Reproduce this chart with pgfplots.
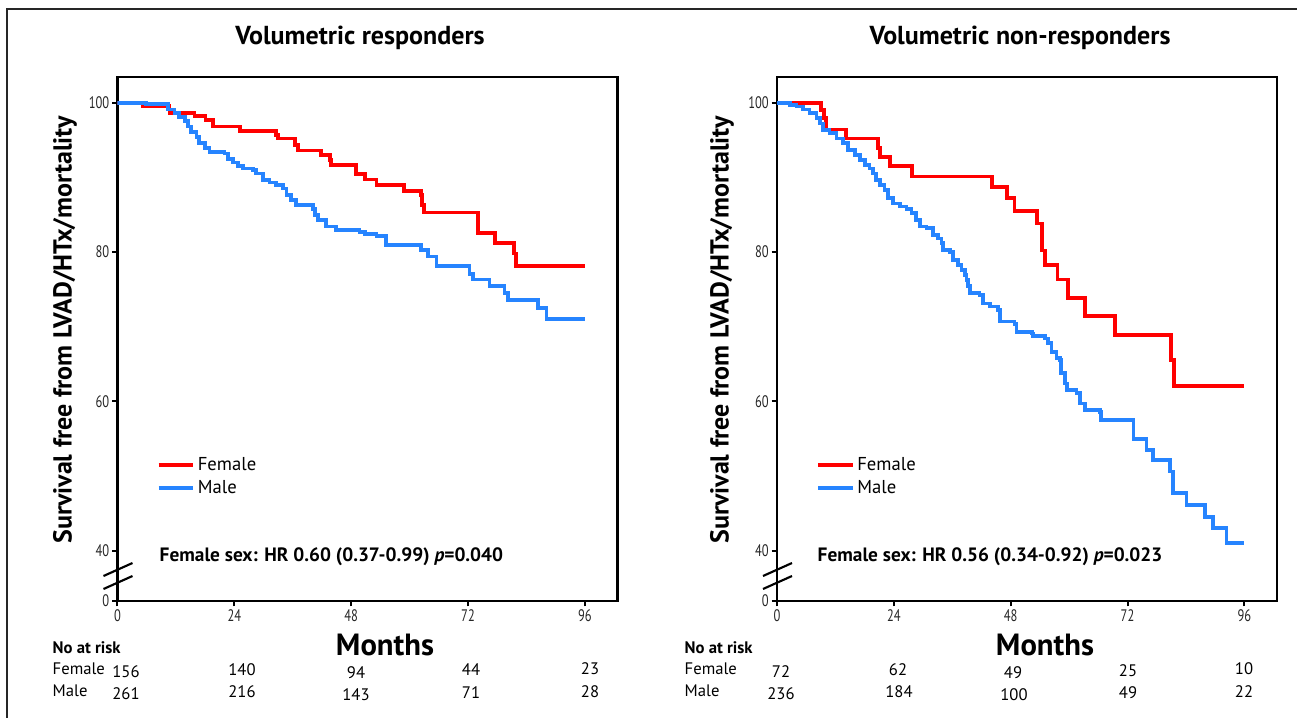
\documentclass[border=0pt]{standalone}
\usepackage{fontspec}
\setmainfont{PT Sans}
\usepackage{pgfplots}
\pgfplotsset{compat=1.18}
\definecolor{kmred}{RGB}{255,0,0}
\definecolor{kmblue}{RGB}{38,132,255}

\pgfplotsset{
  km/.style={
    scale only axis, width=375pt, height=393pt,
    anchor=south west,
    xmin=0, xmax=102.7, ymin=33.25, ymax=103.44,
    axis line style={line width=2.2pt},
    xtick={0,24,48,72,96}, xticklabels={0,24,48,72,96},
    ytick={33.25,40,60,80,100}, yticklabels={0,40,60,80,100},
    xtick pos=left, ytick pos=left, tick align=outside,
    major tick length=4pt,
    tick style={line width=1.5pt, black},
    tick label style={font=\fontsize{12.5}{14}\selectfont\addfontfeature{FakeStretch=0.75}, text=black!85, inner sep=2pt},
    legend style={draw=none, fill=none, font=\fontsize{14}{15}\selectfont,
      at={(0.07,0.2376)}, anchor=west, row sep=2pt},
    legend cell align=left,
    legend image code/.code={\draw[#1] (0pt,0pt) -- (26pt,0pt);},
  },
  fem/.style={const plot, kmred, line width=2.8pt},
  mal/.style={const plot, kmblue, line width=2.8pt},
}

\begin{document}
\begin{tikzpicture}
% 1 px of the reference = 0.75pt; y runs downward in the px scope
\begin{scope}[x=0.75pt,y=-0.75pt]
\path[use as bounding box] (0,0) rectangle (1297,718);
\draw[line width=1.6pt, black!85] (7,718) -- (7,9) -- (1297,9);
\end{scope}

% left panel: origin at px (117.5,601)
\begin{axis}[km, at={(88.125pt,-450.75pt)}]
\addplot[fem] coordinates {
 (0,100) (5.2,99.55) (10.7,98.6) (15.8,98.2) (18.1,97.7) (19.6,96.8) (25.1,96.25)
 (32.6,95.7) (32.9,95.2) (36.4,94.3) (37.1,93.6) (41.8,93.0) (43.6,92.3) (43.9,91.65)
 (49.0,90.4) (50.8,89.7) (53.2,89.0) (58.8,88.2) (62.4,87.6) (62.6,86.3) (62.9,85.3)
 (74.0,82.5) (77.5,81.2) (81.4,79.8) (81.9,78.1) (96,78.1)
};
\addlegendentry{Female}
\addplot[mal] coordinates {
 (0,100) (5.9,99.8) (10.3,99.1) (11.7,98.6) (12.7,98.1) (13.8,97.5) (14.5,96.8)
 (15.1,96.1) (16.2,95.4) (16.8,94.6) (17.9,93.9) (18.9,93.4) (22.0,93.2) (22.7,92.5)
 (23.7,92.0) (24.7,91.5) (25.8,91.2) (27.8,91.0) (28.5,90.5) (29.9,89.6) (31.2,89.3)
 (32.6,89.0) (34.0,88.5) (34.7,87.6) (35.7,87.0) (36.7,86.3) (40.1,85.8) (40.5,85.0)
 (41.2,84.3) (42.9,83.4) (44.9,82.9) (49.7,82.7) (50.8,82.4) (53.2,82.1) (55.2,80.9)
 (62.4,80.3) (63.8,79.4) (65.5,78.1) (72.3,77.1) (73.0,76.3) (76.4,75.4) (79.5,74.5)
 (80.2,73.6) (86.4,72.5) (88.1,71.0) (96,71.0)
};
\addlegendentry{Male}
\end{axis}

% right panel: origin at px (777,601)
\begin{axis}[km, at={(582.75pt,-450.75pt)}]
\addplot[fem] coordinates {
 (0,100) (9.1,99.0) (9.6,97.9) (10.0,96.4) (14.1,95.2) (20.8,93.9) (21.2,92.7)
 (23.2,91.5) (27.8,90.1) (44.2,88.7) (47.3,87.2) (48.8,85.5) (53.4,83.8) (54.5,80.2)
 (55.0,78.3) (57.6,76.3) (59.8,73.8) (63.2,71.4) (69.4,68.9) (81.0,65.5) (81.6,62.05)
 (96,62.05)
};
\addlegendentry{Female}
\addplot[mal] coordinates {
 (0,100) (2.6,99.7) (4.0,99.5) (5.3,99.1) (6.7,98.6) (8.1,97.9) (8.8,97.2) (9.5,96.3)
 (10.8,95.9) (12.2,95.2) (13.6,94.6) (14.6,93.7) (16.0,93.0) (17.0,92.3) (18.0,91.7)
 (19.0,91.2) (19.7,90.5) (20.4,89.6) (21.1,89.0) (22.1,88.3) (22.8,87.2) (23.8,86.5)
 (25.2,86.1) (26.6,85.8) (27.6,85.2) (28.6,84.3) (29.3,83.4) (30.7,83.2) (32.1,82.3)
 (33.1,81.8) (33.8,81.2) (34.1,80.3) (35.5,80.0) (36.2,78.9) (37.2,78.3) (37.9,77.6)
 (38.6,76.9) (38.9,76.25) (39.3,75.4) (39.6,74.5) (41.6,74.2) (42.3,73.1) (43.7,72.7)
 (45.4,72.2) (45.8,70.7) (48.8,70.4) (49.2,69.3) (52.3,69.1) (52.6,68.7) (55.0,68.4)
 (55.7,67.8) (56.4,66.65) (57.4,65.8) (58.1,65.5) (58.4,63.75) (59.1,62.4) (59.5,61.5)
 (61.5,61.1) (62.2,59.7) (63.2,58.8) (66.3,58.6) (66.6,57.5) (73.2,55.0) (75.9,53.5)
 (77.3,52.1) (80.7,50.6) (81.4,47.7) (84.1,46.1) (87.9,44.55) (89.6,43.0) (92.3,41.0)
 (96,41.0)
};
\addlegendentry{Male}
\end{axis}

\begin{scope}[x=0.75pt,y=-0.75pt]
% axis breaks
\foreach \x in {117.5,777} {
  \draw[line width=1.6pt] (\x-14,576) -- (\x+15,563);
  \draw[line width=1.6pt] (\x-14,589) -- (\x+15,576);
}

% titles and labels
\node[font=\bfseries\fontsize{19.5}{22}\selectfont] at (360,38) {Volumetric responders};
\node[font=\bfseries\fontsize{19.5}{22}\selectfont] at (1020,38) {Volumetric non-responders};
\node[font=\bfseries\fontsize{19.5}{22}\selectfont, rotate=90] at (65,330) {Survival free from LVAD/HTx/mortality};
\node[font=\bfseries\fontsize{19.5}{22}\selectfont, rotate=90] at (722,330) {Survival free from LVAD/HTx/mortality};
\node[font=\bfseries\fontsize{23}{26}\selectfont] at (385,645) {Months};
\node[font=\bfseries\fontsize{23}{26}\selectfont] at (1045,645) {Months};

\node[anchor=west, font=\bfseries\fontsize{14.5}{17}\selectfont] at (155,557) {Female sex: HR 0.60 (0.37-0.99) \textit{p}=0.040};
\node[anchor=west, font=\bfseries\fontsize{14.5}{17}\selectfont] at (813,557) {Female sex: HR 0.56 (0.34-0.92) \textit{p}=0.023};

% numbers at risk
\begin{scope}[every node/.style={font=\fontsize{12.5}{14}\selectfont}]
\node[anchor=west, font=\bfseries\fontsize{12.5}{14}\selectfont] at (48,648) {No at risk};
\node[anchor=west] at (48,669) {Female};
\node[anchor=west] at (48,691) {Male};
\node at (126,672) {156}; \node at (242,670) {140}; \node at (356,673) {94}; \node at (471,670) {44}; \node at (590,669) {23};
\node at (126,694) {261}; \node at (242,692) {216}; \node at (356,695) {143}; \node at (471,693) {71}; \node at (590,692) {28};
\node[anchor=west, font=\bfseries\fontsize{12.5}{14}\selectfont] at (680,648) {No at risk};
\node[anchor=west] at (680,669) {Female};
\node[anchor=west] at (680,691) {Male};
\node at (781,672) {72}; \node at (898,670) {62}; \node at (1013,673) {49}; \node at (1128,671) {25}; \node at (1244,669) {10};
\node at (781,694) {236}; \node at (899,692) {184}; \node at (1014,695) {100}; \node at (1128,693) {49}; \node at (1244,692) {22};
\end{scope}
\end{scope}
\end{tikzpicture}
\end{document}
